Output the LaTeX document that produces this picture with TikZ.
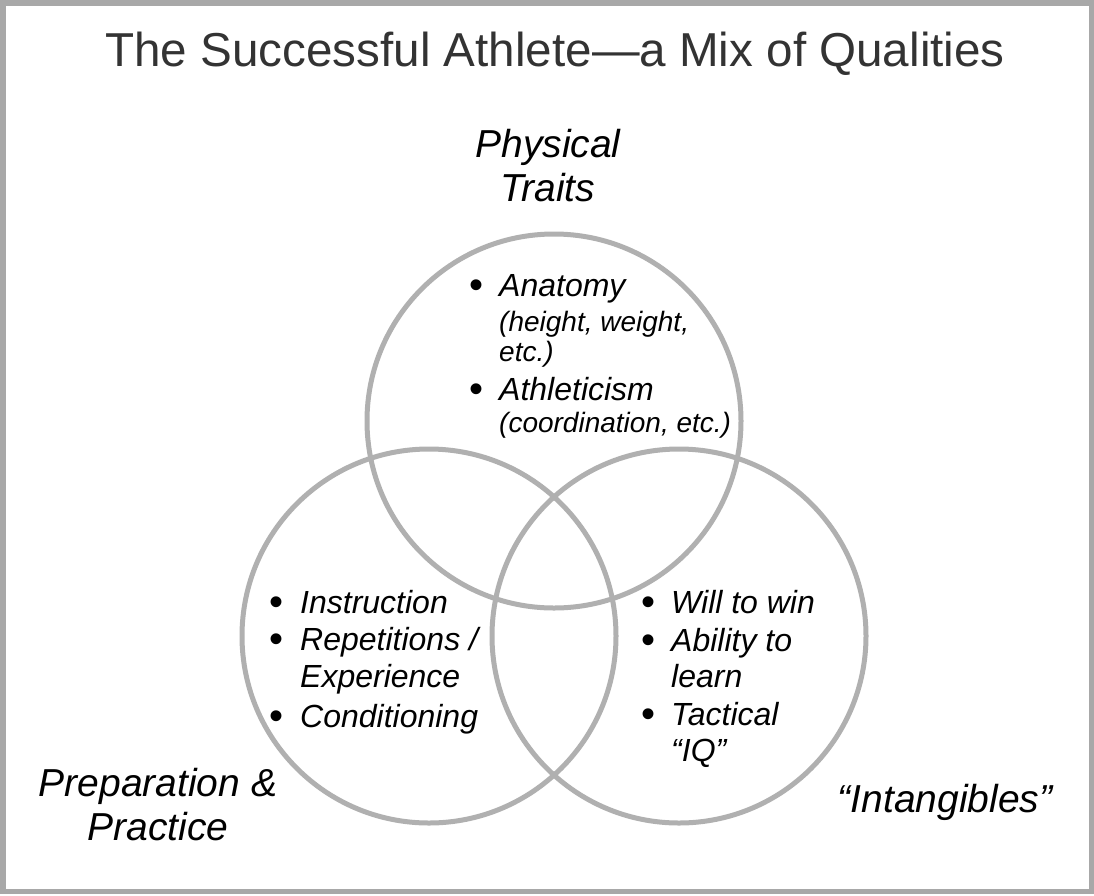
\documentclass[tikz,border=0pt]{standalone}
\usepackage{fontspec}
\setmainfont{Liberation Sans}
\definecolor{framegray}{RGB}{168,168,168}
\definecolor{ringgray}{RGB}{176,176,176}
\definecolor{titlegray}{RGB}{51,51,51}
\begin{document}
\begin{tikzpicture}[x=1pt,y=-1pt,
  ring/.style={circle, draw=ringgray, line width=5pt, minimum size=374pt, inner sep=0pt},
  itemtext/.style={anchor=base west, inner sep=0pt, font=\fontsize{32}{38}\selectfont\itshape},
  subtext/.style={anchor=base west, inner sep=0pt, font=\fontsize{28}{34}\selectfont\itshape},
  bulletmark/.style={anchor=base, inner sep=0pt, font=\fontsize{40}{44}\selectfont},
  grouplabel/.style={anchor=base, inner sep=0pt, font=\fontsize{39}{45}\selectfont\itshape},
]
\useasboundingbox (0,0) rectangle (1094,895);
\fill[white] (0,0) rectangle (1094,895);
\draw[framegray, line width=5.5pt] (2.75,2.75) rectangle (1091.25,891.5);

% title
\node[anchor=base, inner sep=0pt, text=titlegray, font=\fontsize{47.6}{54}\selectfont] (title) at (555,66) {The Successful Athlete—a Mix of Qualities};

% circles
\node[ring] (top) at (554,421) {};
\node[ring] (left) at (429,636) {};
\node[ring] (right) at (679,636) {};

% group labels
\node[grouplabel] (phys1) at (548,157) {Physical};
\node[grouplabel] (phys2) at (548,201) {Traits};
\node[grouplabel] (prep1) at (158,796) {Preparation \&};
\node[grouplabel] (prep2) at (158,840) {Practice};
\node[grouplabel] (intang) at (945,812) {“Intangibles”};

% top circle items
\node[bulletmark] (tb1) at (476,298) {•};
\node[itemtext] (t1) at (499,296) {Anatomy};
\node[subtext] (t1a) at (499,331) {(height, weight,};
\node[subtext] (t1b) at (499,361) {etc.)};
\node[bulletmark] (tb2) at (476,402) {•};
\node[itemtext] (t2) at (499,400) {Athleticism};
\node[subtext] (t2a) at (499,432) {(coordination, etc.)};

% left circle items
\node[bulletmark] (lb1) at (276,615) {•};
\node[itemtext] (l1) at (300,613) {Instruction};
\node[bulletmark] (lb2) at (276,652) {•};
\node[itemtext] (l2) at (300,650) {Repetitions /};
\node[itemtext] (l2a) at (300,687) {Experience};
\node[bulletmark] (lb3) at (276,729) {•};
\node[itemtext] (l3) at (300,727) {Conditioning};

% right circle items
\node[bulletmark] (rb1) at (648,615) {•};
\node[itemtext] (r1) at (671,613) {Will to win};
\node[bulletmark] (rb2) at (648,653) {•};
\node[itemtext] (r2) at (671,651) {Ability to};
\node[itemtext] (r2a) at (671,687) {learn};
\node[bulletmark] (rb3) at (648,727) {•};
\node[itemtext] (r3) at (671,725) {Tactical};
\node[itemtext] (r3a) at (671,761) {“IQ”};
\end{tikzpicture}
\end{document}
